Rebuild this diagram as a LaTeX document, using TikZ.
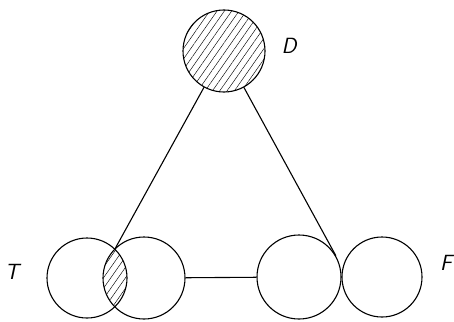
\documentclass[tikz,border=0pt]{standalone}
\usetikzlibrary{patterns.meta}
\begin{document}
\begin{tikzpicture}[x=1pt,y=-1pt,
  ring/.style={circle,draw,line width=1.1pt,inner sep=0pt},
  hatch/.style={pattern={Lines[angle=55,distance=6pt,line width=0.45pt]}},
  lab/.style={font=\fontsize{22}{24}\sffamily\itshape,inner sep=0pt},
  link/.style={line width=1.1pt}]
\useasboundingbox (0,0) rectangle (454,321);
% D
\node[ring,hatch,minimum size=82pt] (D) at (224,51) {};
\node[lab] (Dl) at (289,46) {D};
% T pair
\path[clip] (0,0) rectangle (454,321);
\begin{scope}
  \clip (87,278) circle (40pt);
  \fill[hatch] (144,278) circle (41pt);
\end{scope}
\node[ring,minimum size=80pt] (Ta) at (87,278) {};
\node[ring,minimum size=82pt] (Tb) at (144,278) {};
\coordinate (Tx) at (114.8,249.2);
\node[lab] (Tl) at (12,272) {T};
% F pair
\node[ring,minimum size=84pt] (Fa) at (299,277) {};
\node[ring,minimum size=80pt] (Fb) at (382,277) {};
\node[lab] (Fl) at (446,263) {F};
% connectors
\draw[link] (D) -- (Tx);
\draw[link] (D) -- (Fa.30);
\draw[link] (Tb) -- (Fa);
\end{tikzpicture}
\end{document}
